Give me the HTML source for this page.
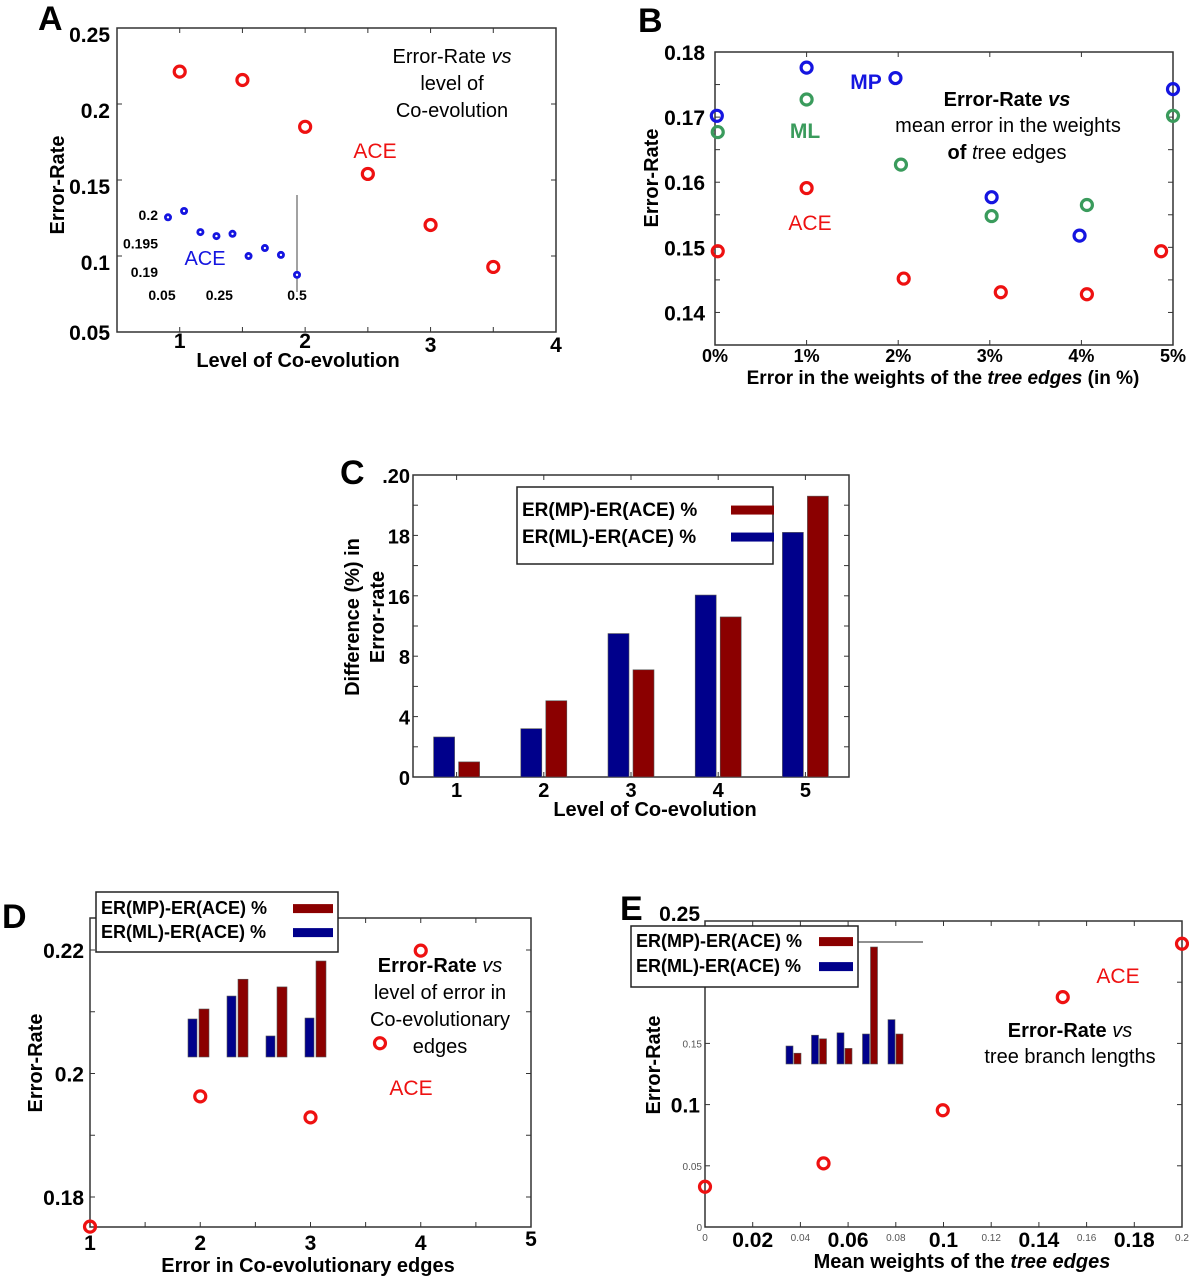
<!DOCTYPE html>
<html><head><meta charset="utf-8"><style>
html,body{margin:0;padding:0;background:#fff}
svg{display:block;font-family:"Liberation Sans",Arial,sans-serif}
</style></head><body>
<svg id="fig" width="1189" height="1280" viewBox="0 0 1189 1280" xmlns="http://www.w3.org/2000/svg">
<text x="38" y="30" font-size="34" font-weight="bold">A</text>
<text x="638" y="32" font-size="34" font-weight="bold">B</text>
<text x="340" y="484" font-size="34" font-weight="bold">C</text>
<text x="2" y="928" font-size="34" font-weight="bold">D</text>
<text x="620" y="920" font-size="34" font-weight="bold">E</text>

<g id="A"></g>
<g id="B"></g>
<g id="C"></g>
<g id="D"></g>
<g id="E"></g>
</svg>
<script>
// ---------- Panel A data ----------
const aX = [1, 1.5, 2, 2.5, 3, 3.5];
const aY = [0.2213, 0.2158, 0.185, 0.154, 0.1204, 0.0928];
const aXTicks = [1, 2, 3, 4];
const aYTicks = [0.05, 0.1, 0.15, 0.2, 0.25];
const aYTickLabels = ["0.05", "0.1", "0.15", "0.2", "0.25"];
const aInsetX = [0.05, 0.106, 0.163, 0.219, 0.275, 0.331, 0.388, 0.444, 0.5];
const aInsetY = [0.1996, 0.2007, 0.197, 0.1963, 0.1967, 0.1928, 0.1942, 0.193, 0.1895];
const aInsetXTicks = [0.05, 0.25, 0.5];
const aInsetXTickLabels = ["0.05", "0.25", "0.5"];
const aInsetYTicks = [0.19, 0.195, 0.2];
const aInsetYTickLabels = ["0.19", "0.195", "0.2"];
// ---------- Panel B data ----------
const bX_MP = [0.02, 1, 1.97, 3.02, 3.98, 5.0];
const bY_MP = [0.1702, 0.1776, 0.176, 0.1577, 0.1518, 0.1743];
const bX_ML = [0.03, 1, 2.03, 3.02, 4.06, 5.0];
const bY_ML = [0.1677, 0.1727, 0.1627, 0.1548, 0.1565, 0.1702];
const bX_ACE = [0.03, 1, 2.06, 3.12, 4.06, 4.87];
const bY_ACE = [0.1494, 0.1591, 0.1452, 0.1431, 0.1428, 0.1494];
const bXTicks = [0, 1, 2, 3, 4, 5];
const bXTickLabels = ["0%", "1%", "2%", "3%", "4%", "5%"];
const bYTicks = [0.14, 0.15, 0.16, 0.17, 0.18];
const bYTickLabels = ["0.14", "0.15", "0.16", "0.17", "0.18"];
// ---------- Panel C data ----------
const cCategories = ["1", "2", "3", "4", "5"];
const cML = [2.65, 3.2, 9.5, 12.05, 16.2];
const cMP = [1.0, 5.05, 7.1, 10.6, 18.6];
const cYTicks = [0, 4, 8, 12, 16, 20];
const cYTickLabels = ["0", "4", "8", "16", "18", ".20"];
// ---------- Panel D data ----------
const dX = [1, 2, 3, 4, 3.63];
const dY = [0.1752, 0.1963, 0.1929, 0.2199, 0.2049];
const dXTicks = [1, 2, 3, 4, 5];
const dYTicks = [0.18, 0.2, 0.22];
const dYTickLabels = ["0.18", "0.2", "0.22"];
const dInsetCats = [1, 2, 3, 4];
const dInsetML = [3.96, 6.35, 2.19, 4.06];
const dInsetMP = [5.0, 8.1, 7.3, 10.0];
// ---------- Panel E data ----------
const eX = [0, 0.0497, 0.0997, 0.15, 0.2];
const eY = [0.0329, 0.052, 0.0954, 0.1878, 0.2314];
const eXTicksSmall = [0, 0.04, 0.08, 0.12, 0.16, 0.2];
const eXTickSmallLabels = ["0", "0.04", "0.08", "0.12", "0.16", "0.2"];
const eXTicksBig = [0.02, 0.06, 0.1, 0.14, 0.18];
const eXTickBigLabels = ["0.02", "0.06", "0.1", "0.14", "0.18"];
const eYTicks = [0, 0.05, 0.1, 0.15, 0.2, 0.25];
const eYTickLabels = ["0", "0.05", "0.1", "0.15", "", "0.25"];
const eInsetCats = [1, 2, 3, 4, 5];
const eInsetML = [1.5, 2.4, 2.6, 2.5, 3.7];
const eInsetMP = [0.9, 2.1, 1.3, 9.75, 2.5];

const NS = "http://www.w3.org/2000/svg";
function lin(d0, d1, r0, r1) { return v => r0 + (v - d0) * (r1 - r0) / (d1 - d0); }
function mk(parent, tag, attrs) {
  const e = document.createElementNS(NS, tag);
  for (const k in attrs) e.setAttribute(k, attrs[k]);
  parent.appendChild(e);
  return e;
}
function txt(parent, x, y, s, size, opts) {
  opts = opts || {};
  const t = mk(parent, "text", {x: x, y: y, "font-size": size, "text-anchor": opts.anchor || "middle",
    "font-weight": opts.bold ? "bold" : "normal", fill: opts.fill || "#000"});
  if (opts.rot) t.setAttribute("transform", "rotate(-90 " + x + " " + y + ")");
  if (opts.italic) t.setAttribute("font-style", "italic");
  t.innerHTML = s;
  
  
  return t;
}
function frame(g, x0, y0, x1, y1, name) {
  const r = mk(g, "rect", {x: x0, y: y0, width: x1 - x0, height: y1 - y0, fill: "none", stroke: "#333", "stroke-width": 1.5});
  
  
}
function xtickMarks(g, xs, sx, y0, y1) {
  xs.forEach(v => {
    const x = sx(v);
    const t1 = mk(g, "line", {x1: x, x2: x, y1: y1, y2: y1 - 5, stroke: "#333"});
    
    
    const t2 = mk(g, "line", {x1: x, x2: x, y1: y0, y2: y0 + 5, stroke: "#333"});
    
    
  });
}
function ytickMarks(g, ys, sy, x0, x1) {
  ys.forEach(v => {
    const y = sy(v);
    const t1 = mk(g, "line", {x1: x0, x2: x0 + 5, y1: y, y2: y, stroke: "#333"});
    
    
    const t2 = mk(g, "line", {x1: x1, x2: x1 - 5, y1: y, y2: y, stroke: "#333"});
    
    
  });
}
function ring(g, x, y, color, name) {
  const c = mk(g, "circle", {cx: x, cy: y, r: 5.5, fill: "none", stroke: color, "stroke-width": 3.2});
  
  
}
function bar(g, x, y, w, h, color, name) {
  const r = mk(g, "rect", {x: x, y: y, width: w, height: Math.max(0, h), fill: color, stroke: "#555", "stroke-width": 0.6});
  
  
}
function legend(g, x, y, w, h, fs, swx, sww, rows, name) {
  const bx = mk(g, "rect", {x: x, y: y, width: w, height: h, fill: "#fff", stroke: "#222", "stroke-width": 1.5});
  
  
  rows.forEach(r => {
    txt(g, x + 5, r.y, r.label, fs, {bold: true, anchor: "start", name: "legend-entry-label"});
    const s = mk(g, "rect", {x: swx, y: r.y - fs * 0.55, width: sww, height: 9, fill: r.color});
    
    
  });
}
const RED = "#ee1111", BLUE = "#1515e0", GREEN = "#3a9b5c", DRED = "#8b0000", DBLUE = "#00008b";

// ================= Panel A =================
(function () {
  const g = document.getElementById("A");
  const X0 = 117, X1 = 556, Y0 = 28, Y1 = 332;
  const sx = lin(0.5, 4, X0, X1), sy = lin(0.05, 0.25, Y1, Y0);
  frame(g, X0, Y0, X1, Y1, "plot-frame-a");
  xtickMarks(g, [1, 1.5, 2, 2.5, 3, 3.5], sx, Y0, Y1);
  ytickMarks(g, aYTicks, sy, X0, X1);
  aXTicks.forEach(v => txt(g, sx(v), 352 - (v === 1 || v === 2 ? 4 : 0), String(v), 21, {bold: true, name: "x-tick-label"}));
  aYTicks.forEach((v, i) => txt(g, 110, Math.min(sy(v) + 14, 340), aYTickLabels[i], 21, {bold: true, anchor: "end", name: "y-tick-label"}));
  txt(g, 298, 367, "Level of Co-evolution", 20, {bold: true, name: "x-axis-title"});
  txt(g, 64, 185, "Error-Rate", 20, {bold: true, rot: true, name: "y-axis-title"});
  aX.forEach((v, i) => ring(g, sx(v), sy(aY[i]), RED, "ace-point"));
  txt(g, 375, 158, "ACE", 21, {fill: RED, name: "ace-series-label"});
  txt(g, 452, 63, 'Error-Rate <tspan font-style="italic">vs</tspan>', 20, {name: "annotation-title-line1"});
  txt(g, 452, 90, "level of", 20, {name: "annotation-title-line2"});
  txt(g, 452, 117, "Co-evolution", 20, {name: "annotation-title-line3"});
  const ix = lin(0.05, 0.5, 168, 297), iy = lin(0.19, 0.2, 272, 215);
  const vl = mk(g, "line", {x1: 297, x2: 297, y1: 195, y2: 292, stroke: "#444", "stroke-width": 1});
  
  
  aInsetXTicks.forEach((v, i) => txt(g, ix(v) - 6 + (i === 2 ? 6 : 0), 300, aInsetXTickLabels[i], 14, {bold: true, name: "inset-x-tick-label"}));
  aInsetYTicks.forEach((v, i) => txt(g, 158, iy(v) + 5, aInsetYTickLabels[i], 14, {bold: true, anchor: "end", name: "inset-y-tick-label"}));
  aInsetX.forEach((v, i) => {
    const c = mk(g, "circle", {cx: ix(v), cy: iy(aInsetY[i]), r: 4, fill: BLUE});
    
    
    const d = mk(g, "circle", {cx: ix(v), cy: iy(aInsetY[i]), r: 1.2, fill: "#fff"});
    
    
  });
  txt(g, 205, 265, "ACE", 20, {fill: BLUE, name: "inset-ace-label"});
})();

// ================= Panel B =================
(function () {
  const g = document.getElementById("B");
  const X0 = 715, X1 = 1173, Y0 = 52, Y1 = 345;
  const sx = lin(0, 5, X0, X1), sy = lin(0.135, 0.18, Y1, Y0);
  frame(g, X0, Y0, X1, Y1, "plot-frame-b");
  xtickMarks(g, bXTicks, sx, Y0, Y1);
  ytickMarks(g, [0.14, 0.145, 0.15, 0.155, 0.16, 0.165, 0.17, 0.175], sy, X0, X1);
  bXTicks.forEach((v, i) => txt(g, sx(v), 362, bXTickLabels[i], 18, {bold: true, name: "x-tick-label"}));
  bYTicks.forEach((v, i) => txt(g, 705, sy(v) + 8, bYTickLabels[i], 21, {bold: true, anchor: "end", name: "y-tick-label"}));
  txt(g, 943, 384, 'Error in the weights of the <tspan font-style="italic">tree edges</tspan> (in %)', 19, {bold: true, name: "x-axis-title"});
  txt(g, 658, 178, "Error-Rate", 20, {bold: true, rot: true, name: "y-axis-title"});
  bX_MP.forEach((v, i) => ring(g, sx(v), sy(bY_MP[i]), BLUE, "mp-point"));
  bX_ML.forEach((v, i) => ring(g, sx(v), sy(bY_ML[i]), GREEN, "ml-point"));
  bX_ACE.forEach((v, i) => ring(g, sx(v), sy(bY_ACE[i]), RED, "ace-point"));
  txt(g, 866, 89, "MP", 21, {bold: true, fill: BLUE, name: "mp-series-label"});
  txt(g, 805, 138, "ML", 21, {bold: true, fill: GREEN, name: "ml-series-label"});
  txt(g, 810, 230, "ACE", 21, {fill: RED, name: "ace-series-label"});
  txt(g, 1007, 106, 'Error-Rate <tspan font-style="italic">vs</tspan>', 20, {bold: true, name: "annotation-title-line1"});
  txt(g, 1008, 132, "mean error in the weights", 20, {name: "annotation-title-line2"});
  txt(g, 1007, 159, '<tspan font-weight="bold">of</tspan> <tspan font-style="italic">t</tspan>ree edges', 20, {name: "annotation-title-line3"});
})();

// ================= Panel C =================
(function () {
  const g = document.getElementById("C");
  const X0 = 413, X1 = 849, Y0 = 475, Y1 = 777;
  const sx = lin(0.5, 5.5, X0, X1), sy = lin(0, 20, Y1, Y0);
  frame(g, X0, Y0, X1, Y1, "plot-frame-c");
  xtickMarks(g, [1, 2, 3, 4, 5], sx, Y0, Y1);
  ytickMarks(g, [2, 4, 6, 8, 10, 12, 14, 16, 18], sy, X0, X1);
  cCategories.forEach((c, i) => txt(g, sx(i + 1), 797, c, 20, {bold: true, name: "x-tick-label"}));
  cYTicks.forEach((v, i) => txt(g, 410, sy(v) + 8, cYTickLabels[i], 20, {bold: true, anchor: "end", name: "y-tick-label"}));
  txt(g, 655, 816, "Level of Co-evolution", 20, {bold: true, name: "x-axis-title"});
  txt(g, 359, 617, "Difference (%) in", 20, {bold: true, rot: true, name: "y-axis-title-line1"});
  txt(g, 384, 617, "Error-rate", 20, {bold: true, rot: true, name: "y-axis-title-line2"});
  cCategories.forEach((c, i) => {
    const cx = sx(i + 1);
    bar(g, cx - 23, sy(cML[i]), 21, Y1 - sy(cML[i]), DBLUE, "bar-ml-" + c);
    bar(g, cx + 2, sy(cMP[i]), 21, Y1 - sy(cMP[i]), DRED, "bar-mp-" + c);
  });
  legend(g, 517, 487, 256, 77, 19, 731, 43, [{y: 516, label: "ER(MP)-ER(ACE) %", color: DRED}, {y: 543, label: "ER(ML)-ER(ACE) %", color: DBLUE}], "legend-c");
})();

// ================= Panel D =================
(function () {
  const g = document.getElementById("D");
  const X0 = 90, X1 = 531, Y0 = 918, Y1 = 1227;
  const sx = lin(1, 5, X0, X1), sy = lin(0.18, 0.22, 1197, 950);
  frame(g, X0, Y0, X1, Y1, "plot-frame-d");
  xtickMarks(g, [1.5, 2, 2.5, 3, 3.5, 4, 4.5], sx, Y0, Y1);
  ytickMarks(g, [0.18, 0.19, 0.2, 0.21, 0.22], sy, X0, X1);
  dXTicks.forEach(v => txt(g, sx(v), 1250 - (v === 5 ? 4 : 0), String(v), 21, {bold: true, name: "x-tick-label"}));
  dYTicks.forEach((v, i) => txt(g, 84, sy(v) + 8, dYTickLabels[i], 21, {bold: true, anchor: "end", name: "y-tick-label"}));
  txt(g, 308, 1272, "Error in Co-evolutionary edges", 20, {bold: true, name: "x-axis-title"});
  txt(g, 42, 1063, "Error-Rate", 20, {bold: true, rot: true, name: "y-axis-title"});
  const ix = lin(1, 4, 198, 315), iy = lin(0, 10, 1057, 961);
  dInsetCats.forEach((c, i) => {
    const cx = ix(c);
    bar(g, cx - 10, iy(dInsetML[i]), 9, 1057 - iy(dInsetML[i]), DBLUE, "inset-bar-ml-" + c);
    bar(g, cx + 1, iy(dInsetMP[i]), 10, 1057 - iy(dInsetMP[i]), DRED, "inset-bar-mp-" + c);
  });
  dX.forEach((v, i) => ring(g, sx(v), sy(dY[i]), RED, "ace-point"));
  txt(g, 411, 1095, "ACE", 21, {fill: RED, name: "ace-series-label"});
  txt(g, 440, 972, 'Error-Rate <tspan font-style="italic" font-weight="normal">vs</tspan>', 20, {bold: true, name: "annotation-title-line1"});
  txt(g, 440, 999, "level of error in", 20, {name: "annotation-title-line2"});
  txt(g, 440, 1026, "Co-evolutionary", 20, {name: "annotation-title-line3"});
  txt(g, 440, 1053, "edges", 20, {name: "annotation-title-line4"});
  legend(g, 96, 892, 242, 60, 18, 293, 40, [{y: 914, label: "ER(MP)-ER(ACE) %", color: DRED}, {y: 938, label: "ER(ML)-ER(ACE) %", color: DBLUE}], "legend-d");
})();

// ================= Panel E =================
(function () {
  const g = document.getElementById("E");
  const X0 = 705, X1 = 1182, Y0 = 921, Y1 = 1227;
  const sx = lin(0, 0.2, X0, X1), sy = lin(0, 0.25, Y1, Y0);
  frame(g, X0, Y0, X1, Y1, "plot-frame-e");
  xtickMarks(g, [0.02, 0.04, 0.06, 0.08, 0.1, 0.12, 0.14, 0.16, 0.18], sx, Y0, Y1);
  ytickMarks(g, eYTicks, sy, X0, X1);
  eXTicksSmall.forEach((v, i) => txt(g, sx(v), 1241, eXTickSmallLabels[i], 10, {fill: "#555", name: "x-tick-label-small"}));
  eXTicksBig.forEach((v, i) => txt(g, sx(v), 1247, eXTickBigLabels[i], 21, {bold: true, name: "x-tick-label"}));
  eYTicks.forEach((v, i) => {
    const big = (v === 0.1 || v === 0.25);
    txt(g, big ? 700 : 702, sy(v) + (big ? 8 : 4) - (v === 0.25 ? 8 : 0), eYTickLabels[i], big ? 21 : 10, {bold: big, anchor: "end", fill: big ? "#000" : "#555", name: "y-tick-label"});
  });
  txt(g, 962, 1268, 'Mean weights of the <tspan font-style="italic">tree edges</tspan>', 20, {bold: true, name: "x-axis-title"});
  txt(g, 660, 1065, "Error-Rate", 20, {bold: true, rot: true, name: "y-axis-title"});
  const hl = mk(g, "line", {x1: 819, x2: 923, y1: 942, y2: 942, stroke: "#222", "stroke-width": 1});
  
  
  const ix = lin(1, 5, 794, 896), iy = lin(0, 10, 1064, 944);
  eInsetCats.forEach((c, i) => {
    const cx = ix(c);
    bar(g, cx - 8, iy(eInsetML[i]), 7, 1064 - iy(eInsetML[i]), DBLUE, "inset-bar-ml-" + c);
    bar(g, cx, iy(eInsetMP[i]), 7, 1064 - iy(eInsetMP[i]), DRED, "inset-bar-mp-" + c);
  });
  eX.forEach((v, i) => ring(g, sx(v), sy(eY[i]), RED, "ace-point"));
  txt(g, 1118, 983, "ACE", 21, {fill: RED, name: "ace-series-label"});
  txt(g, 1070, 1037, 'Error-Rate <tspan font-style="italic" font-weight="normal">vs</tspan>', 20, {bold: true, name: "annotation-title-line1"});
  txt(g, 1070, 1063, "tree branch lengths", 20, {name: "annotation-title-line2"});
  legend(g, 631, 926, 227, 61, 18, 819, 34, [{y: 947, label: "ER(MP)-ER(ACE) %", color: DRED}, {y: 972, label: "ER(ML)-ER(ACE) %", color: DBLUE}], "legend-e");
})();
</script>
</body></html>
